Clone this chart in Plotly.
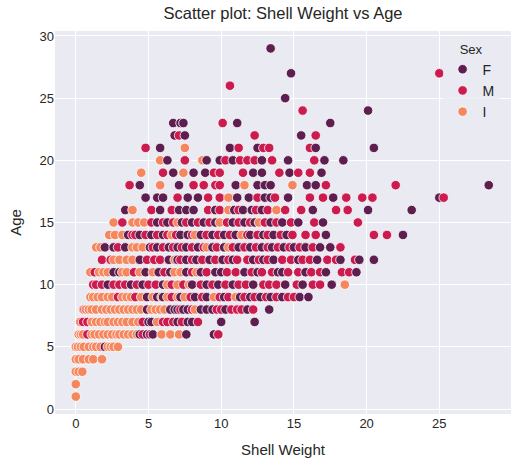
import plotly.graph_objects as go

# shell weight values per age (rings) row, one dict per sex
f_rows = {
    5: [2.0],
    6: [4.4, 4.9, 5.3, 7.6, 9.5],
    7: [5.0, 5.2, 7.0, 7.7, 8.0, 10.0, 12.3],
    8: [4.9, 6.5, 6.8, 7.0, 7.4, 7.7, 8.6, 9.0, 9.4, 10.3, 11.8, 13.3],
    9: [4.9, 5.6, 6.0, 7.2, 8.2, 9.0, 10.2, 11.3, 12.0, 12.7, 13.4, 14.2, 15.4, 16.0],
    10: [2.2, 3.8, 4.6, 6.0, 8.0, 9.0, 9.8, 10.8, 12.2, 14.4, 15.6, 17.6],
    11: [2.6, 3.0, 4.8, 5.7, 6.5, 7.6, 8.6, 9.6, 10.0, 11.6, 12.5, 13.9, 14.2, 15.8, 17.2, 19.3],
    12: [4.4, 6.4, 7.0, 7.6, 8.3, 9.2, 10.1, 10.8, 12.2, 12.9, 13.6, 15.3, 16.6, 18.2, 19.5, 20.5],
    13: [2.0, 2.6, 3.4, 5.1, 5.6, 6.4, 7.0, 7.6, 8.4, 9.4, 10.2, 11.2, 12.0, 12.8, 13.5, 14.3, 15.0, 15.8, 16.8, 17.5],
    14: [3.6, 4.4, 5.2, 6.0, 7.2, 7.7, 8.6, 9.4, 10.2, 11.0, 12.0, 12.9, 13.6, 14.5, 17.2, 22.5],
    15: [5.6, 6.3, 7.3, 8.0, 8.8, 9.6, 10.8, 11.6, 12.3, 13.4, 14.2, 15.3, 17.0],
    16: [3.4, 5.8, 7.1, 7.6, 8.1, 9.6, 10.9, 11.5, 12.1, 12.8, 16.3, 20.1, 23.1],
    17: [4.8, 5.6, 6.0, 7.7, 8.4, 11.1, 11.9, 13.0, 13.4, 14.6, 17.7, 25.0],
    18: [4.4, 7.1, 11.0, 12.5, 13.0, 13.4, 15.9, 16.5, 28.4],
    19: [6.7, 8.1, 8.9, 12.2, 12.8, 14.7, 16.9],
    20: [6.3, 9.0, 9.9, 10.8, 12.8, 14.6, 17.1, 18.4],
    21: [5.8, 10.6, 12.5, 16.5, 20.5],
    22: [6.8, 7.5, 15.5],
    23: [6.7, 7.2, 7.4, 11.1, 17.5],
    24: [20.1],
    25: [14.4],
    27: [14.8],
    29: [13.4],
}
m_rows = {
    6: [0.8, 4.6, 5.1, 9.8],
    7: [0.5, 0.8, 4.6, 6.0, 6.3, 6.7, 7.3, 8.4],
    8: [0.6, 7.2, 8.0, 9.7, 10.0, 10.7, 11.1, 11.4, 12.2],
    9: [2.9, 4.1, 6.6, 7.9, 8.7, 9.9, 10.5, 11.6, 12.3, 13.1, 13.8, 14.6, 15.0],
    10: [1.2, 1.4, 1.8, 2.6, 3.0, 3.4, 4.2, 5.0, 5.5, 6.6, 7.4, 8.6, 9.4, 10.3, 11.2, 11.7, 12.9, 13.3, 13.8, 15.2, 16.3, 16.8],
    11: [1.3, 4.0, 6.1, 8.0, 9.0, 10.4, 11.0, 12.1, 12.8, 13.5, 14.6, 15.3, 16.2, 16.8, 18.3, 18.8],
    12: [1.8, 2.4, 4.9, 5.4, 5.8, 7.2, 8.0, 8.7, 9.6, 10.5, 11.1, 11.8, 12.6, 13.2, 14.2, 14.8, 15.6, 16.1, 17.3, 17.9, 19.2],
    13: [2.9, 5.3, 6.0, 6.7, 7.3, 8.0, 8.8, 9.7, 10.8, 11.6, 12.4, 13.2, 13.9, 14.7, 15.4, 16.3, 18.2],
    14: [3.9, 4.1, 4.8, 5.6, 6.3, 6.9, 8.0, 9.0, 9.8, 10.6, 11.8, 12.5, 13.2, 14.1, 14.9, 15.8, 16.5, 20.5, 21.4],
    15: [3.2, 5.2, 6.0, 6.7, 7.6, 8.4, 9.2, 10.4, 11.2, 12.0, 13.0, 13.8, 14.8, 16.4, 19.4],
    16: [5.2, 6.6, 9.1, 9.9, 11.2, 12.4, 13.2, 14.4, 15.5, 17.9, 18.7],
    17: [7.0, 9.1, 9.9, 12.5, 13.7, 16.1, 17.0, 18.6, 19.7, 20.4, 25.3],
    18: [3.7, 8.1, 8.8, 9.6, 9.9, 17.2, 22.0],
    19: [6.0, 9.5, 9.9, 11.5, 14.0, 15.3, 16.1],
    20: [7.5, 10.3, 11.3, 11.8, 12.3, 13.5, 16.4],
    21: [4.8, 11.2, 12.9, 13.3, 16.1],
    22: [7.1, 12.3, 16.5],
    23: [10.1],
    24: [15.6],
    26: [10.6],
    27: [25.0],
}
i_rows = {
    1: [0.0],
    2: [0.0],
    3: [0.0, 0.2, 0.45],
    4: [0.0, 0.2, 0.5, 0.9, 1.2, 1.8],
    5: [0.0, 0.15, 0.35, 0.55, 0.9, 1.2, 1.4, 1.7, 2.2, 2.4, 2.6, 2.9],
    6: [0.2, 0.35, 0.5, 1.1, 1.3, 1.6, 1.9, 2.2, 2.5, 2.8, 3.0, 3.3, 3.6, 3.9, 4.2, 5.9, 6.5, 7.1],
    7: [0.3, 1.1, 1.4, 1.7, 2.0, 2.2, 2.6, 2.9, 3.2, 3.5, 3.9, 4.3, 5.6],
    8: [0.5, 0.7, 0.9, 1.1, 1.4, 1.8, 2.1, 2.4, 2.7, 3.0, 3.3, 3.6, 3.9, 4.2, 4.5, 5.2, 5.5, 5.8, 6.1, 8.2],
    9: [1.0, 1.2, 1.5, 1.8, 2.2, 2.5, 3.2, 3.5, 3.8, 4.5, 5.3, 5.9, 6.3, 7.0, 7.5, 9.5, 11.0],
    10: [6.3, 7.0, 7.8, 18.5],
    11: [1.0, 1.6, 1.9, 2.2, 3.2, 3.5, 4.4, 5.3, 6.8, 7.2, 8.3],
    12: [2.6, 3.0, 3.5, 3.9, 6.8],
    13: [1.4, 1.7, 3.9, 4.2, 4.6, 9.0, 10.5],
    14: [2.3, 2.7, 3.2, 6.6, 8.2, 11.4],
    15: [2.6, 3.9, 4.3, 4.7, 7.0, 9.9, 12.6],
    16: [3.9, 10.5, 13.8],
    17: [10.5],
    18: [5.8, 11.6, 14.9],
    19: [4.5, 7.4],
    20: [5.8, 8.7],
    21: [7.5],
}

sexes = ["F", "M", "I"]
palette = {"F": "#5f1e50", "M": "#cb1b4f", "I": "#f5875e"}

records = []
for sex, rows in zip(sexes, [f_rows, m_rows, i_rows]):
    for age, weights in rows.items():
        for w in weights:
            records.append((age, w, sex))
records.sort(key=lambda r: (r[0], r[1]))

ages = [r[0] for r in records]
weights = [r[1] for r in records]
colors = [palette[r[2]] for r in records]

fig = go.Figure()
fig.add_trace(go.Scatter(
    x=weights, y=ages, mode="markers", showlegend=False,
    marker=dict(size=9.5, color=colors, line=dict(color="white", width=0.8)),
))
# legend entries only
for sex in sexes:
    fig.add_trace(go.Scatter(
        x=[None], y=[None], mode="markers", name=sex,
        marker=dict(size=9.5, color=palette[sex], line=dict(color="white", width=0.8)),
    ))

font = "Liberation Sans, Arial, sans-serif"
fig.update_layout(
    width=520, height=468,
    margin=dict(l=55, r=9, t=31, b=54),
    paper_bgcolor="white", plot_bgcolor="#eaeaf2",
    font=dict(family=font, color="#262626", size=13),
    title=dict(text="Scatter plot: Shell Weight vs Age", x=0.5, xref="paper",
               y=0.972, yanchor="middle", font=dict(size=16.5)),
    legend=dict(title=dict(text="Sex", side="top center", font=dict(size=13)),
                x=0.85, xanchor="left", y=0.985, yanchor="top",
                bgcolor="rgba(234,234,242,0.8)", font=dict(size=14)),
    xaxis=dict(range=[-1.43, 29.93], tickvals=[0, 5, 10, 15, 20, 25],
               gridcolor="white", gridwidth=1.2, zeroline=False, showline=False,
               automargin=False,
               title=dict(text="Shell Weight", font=dict(size=15), standoff=14)),
    yaxis=dict(range=[-0.4, 30.4], tickvals=[0, 5, 10, 15, 20, 25, 30],
               gridcolor="white", gridwidth=1.2, zeroline=False, showline=False,
               automargin=False,
               title=dict(text="Age", font=dict(size=15), standoff=14)),
)

fig.write_html("out.html", config={"displayModeBar": False},
               post_script="document.body.style.margin='0';")
